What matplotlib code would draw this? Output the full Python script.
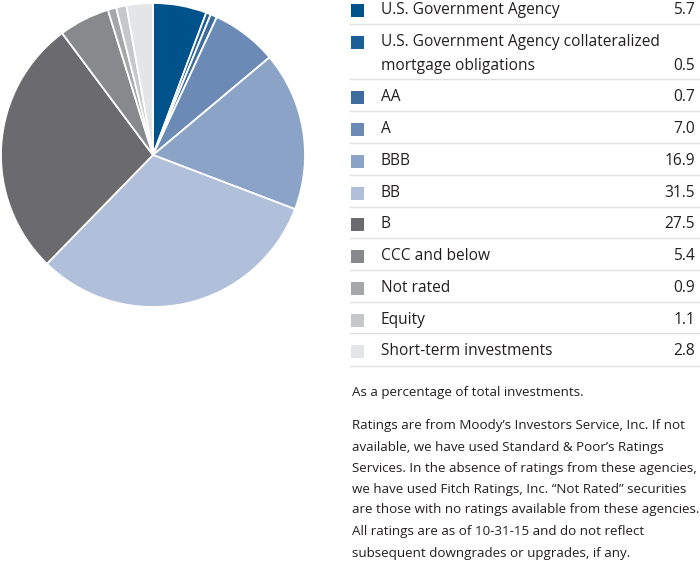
import matplotlib
matplotlib.use("Agg")
import matplotlib.pyplot as plt

categories = ["U.S. Government Agency",
              "U.S. Government Agency collateralized\nmortgage obligations",
              "AA", "A", "BBB", "BB", "B", "CCC and below", "Not rated",
              "Equity", "Short-term investments"]
values = [5.7, 0.5, 0.7, 7.0, 16.9, 31.5, 27.5, 5.4, 0.9, 1.1, 2.8]
value_labels = ["5.7", "0.5", "0.7", "7.0", "16.9", "31.5", "27.5", "5.4", "0.9", "1.1", "2.8"]
colors = ["#00538a", "#1c5e96", "#3e6c9e", "#6b8ab5", "#8aa3c6", "#b0c0da",
          "#6b6a6e", "#87898c", "#a4a6a8", "#c6c7c9", "#e4e5e6"]
footnote_lines = [
    "As a percentage of total investments.",
    "Ratings are from Moody\u2019s Investors Service, Inc. If not",
    "available, we have used Standard & Poor\u2019s Ratings",
    "Services. In the absence of ratings from these agencies,",
    "we have used Fitch Ratings, Inc. \u201cNot Rated\u201d securities",
    "are those with no ratings available from these agencies.",
    "All ratings are as of 10-31-15 and do not reflect",
    "subsequent downgrades or upgrades, if any.",
]

W, H = 700, 569
fig = plt.figure(figsize=(W / 100, H / 100), dpi=100)
plt.rcParams['font.family'] = ['Open Sans', 'DejaVu Sans']

# pie: center (153,155), radius 152 px
cx, cy, r = 153, 155, 152
ax = fig.add_axes([(cx - r) / W, (H - cy - r) / H, 2 * r / W, 2 * r / H])
ax.pie(values, colors=colors, startangle=90, counterclock=False,
       wedgeprops=dict(edgecolor="white", linewidth=1.3), radius=1.0)
ax.set_xlim(-1, 1)
ax.set_ylim(-1, 1)
ax.set_aspect("auto")
ax.axis("off")

lax = fig.add_axes([0, 0, 1, 1])
lax.set_xlim(0, W)
lax.set_ylim(H, 0)
lax.axis("off")

row_y = [10, 42, 97, 129, 161, 193, 224, 256, 288, 320, 351]
val_y = [10, 66, 97, 129, 161, 193, 224, 256, 288, 320, 351]
sep_y = [24, 79, 111, 143, 175, 207, 238, 270, 302, 333, 366]
fs = 11.2
tc = "#231f20"
for i, (cat, v, c) in enumerate(zip(categories, value_labels, colors)):
    lax.add_patch(plt.Rectangle((351, row_y[i] - 6), 13, 13, color=c, lw=0))
    lines = cat.split("\n")
    lax.text(381, row_y[i], lines[0], fontsize=fs, va="center", ha="left", color=tc)
    if len(lines) > 1:
        lax.text(381, val_y[i], lines[1], fontsize=fs, va="center", ha="left", color=tc)
    lax.text(695, val_y[i], v, fontsize=fs, va="center", ha="right", color=tc)
    lax.plot([350, 700], [sep_y[i], sep_y[i]], color="#e0e0e0", lw=1)

foot_y = [392, 425, 447, 468, 489, 510, 531, 553]
for y, line in zip(foot_y, footnote_lines):
    lax.text(352, y, line, fontsize=9.6, va="center", ha="left", color=tc)

fig.savefig("out.png", dpi=100)
